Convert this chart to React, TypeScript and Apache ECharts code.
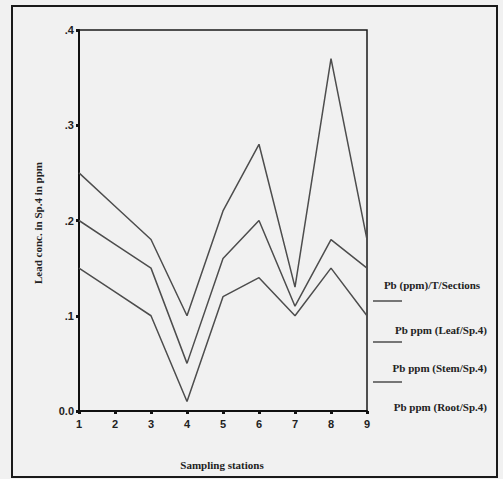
import React, { useEffect, useRef } from "react";
import * as echarts from "echarts";

const stations = ["1", "2", "3", "4", "5", "6", "7", "8", "9"];
const leafValues = [0.25, 0.215, 0.18, 0.1, 0.21, 0.28, 0.13, 0.37, 0.18];
const stemValues = [0.2, 0.175, 0.15, 0.05, 0.16, 0.2, 0.11, 0.18, 0.15];
const rootValues = [0.15, 0.125, 0.1, 0.01, 0.12, 0.14, 0.1, 0.15, 0.1];
const legendTitle = "Pb (ppm)/T/Sections";
const seriesNames = ["Pb ppm (Leaf/Sp.4)", "Pb ppm (Stem/Sp.4)", "Pb ppm (Root/Sp.4)"];
const yTitle = "Lead conc. in Sp.4 in ppm";
const xTitle = "Sampling stations";

const LINE_COLOR = "#4d4d4d";
const SERIF = "'Liberation Serif', 'Times New Roman', serif";
const SANS = "'Liberation Sans', Arial, sans-serif";

export default function App() {
  const ref = useRef<HTMLDivElement>(null);
  useEffect(() => {
    if (!ref.current) return;
    const chart = echarts.init(ref.current, null, { renderer: "svg" });
    const values = [leafValues, stemValues, rootValues];
    const legendY = [330, 368, 407];
    const legendLineY = [301, 342, 382];
    chart.setOption({
      animation: false,
      backgroundColor: "#f1f1f1",
      grid: {
        left: 79,
        right: 136,
        top: 30,
        bottom: 68,
        show: true,
        borderColor: "#1a1a1a",
        borderWidth: 1.5,
        backgroundColor: "transparent",
      },
      xAxis: {
        type: "category",
        data: stations,
        boundaryGap: false,
        axisLine: { show: true, lineStyle: { color: "#111", width: 2 } },
        axisTick: { show: true, alignWithLabel: true, length: 3, lineStyle: { color: "#111", width: 3 } },
        axisLabel: { color: "#222", fontFamily: SANS, fontWeight: "bold", fontSize: 11, margin: 7 },
        splitLine: { show: false },
      },
      yAxis: {
        type: "value",
        min: 0,
        max: 0.4,
        interval: 0.1,
        axisLine: { show: true, lineStyle: { color: "#111", width: 2 } },
        axisTick: { show: true, length: 3, lineStyle: { color: "#111", width: 3 } },
        axisLabel: {
          color: "#222",
          fontFamily: SANS,
          fontWeight: "bold",
          fontSize: 11,
          margin: 5,
          formatter: (v: number) => (v === 0 ? "0.0" : "." + Math.round(v * 10)),
        },
        splitLine: { show: false },
      },
      series: values.map((d, i) => ({
        type: "line",
        name: seriesNames[i],
        data: d,
        symbol: "none",
        lineStyle: { color: LINE_COLOR, width: 1.5 },
        itemStyle: { color: LINE_COLOR },
      })),
      graphic: [
        {
          type: "rect",
          shape: { x: 12, y: 6, width: 485, height: 471 },
          style: { fill: "none", stroke: "#1a1a1a", lineWidth: 2 },
          z: 10,
        },
        {
          type: "text",
          x: 38,
          y: 223,
          rotation: Math.PI / 2,
          style: {
            text: yTitle,
            fontFamily: SERIF,
            fontWeight: "bold",
            fontSize: 11,
            fill: "#222",
            align: "center",
            verticalAlign: "middle",
          },
        },
        {
          type: "text",
          x: 222,
          y: 465,
          style: {
            text: xTitle,
            fontFamily: SERIF,
            fontWeight: "bold",
            fontSize: 11,
            fill: "#222",
            align: "center",
            verticalAlign: "middle",
          },
        },
        {
          type: "text",
          x: 432,
          y: 285,
          style: {
            text: legendTitle,
            fontFamily: SERIF,
            fontWeight: "bold",
            fontSize: 11,
            fill: "#222",
            align: "center",
            verticalAlign: "middle",
          },
        },
        ...seriesNames.map((n, i) => ({
          type: "text",
          x: 487,
          y: legendY[i],
          style: {
            text: n,
            fontFamily: SERIF,
            fontWeight: "bold",
            fontSize: 11,
            fill: "#222",
            align: "right",
            verticalAlign: "middle",
          },
        })),
        ...legendLineY.map((y) => ({
          type: "line",
          shape: { x1: 373, y1: y, x2: 402, y2: y },
          style: { stroke: LINE_COLOR, lineWidth: 1.5 },
        })),
      ],
    });
    return () => chart.dispose();
  }, []);
  return (
    <div
      ref={ref}
      style={{ position: "fixed", left: 0, top: 0, width: 503, height: 479 }}
    />
  );
}
